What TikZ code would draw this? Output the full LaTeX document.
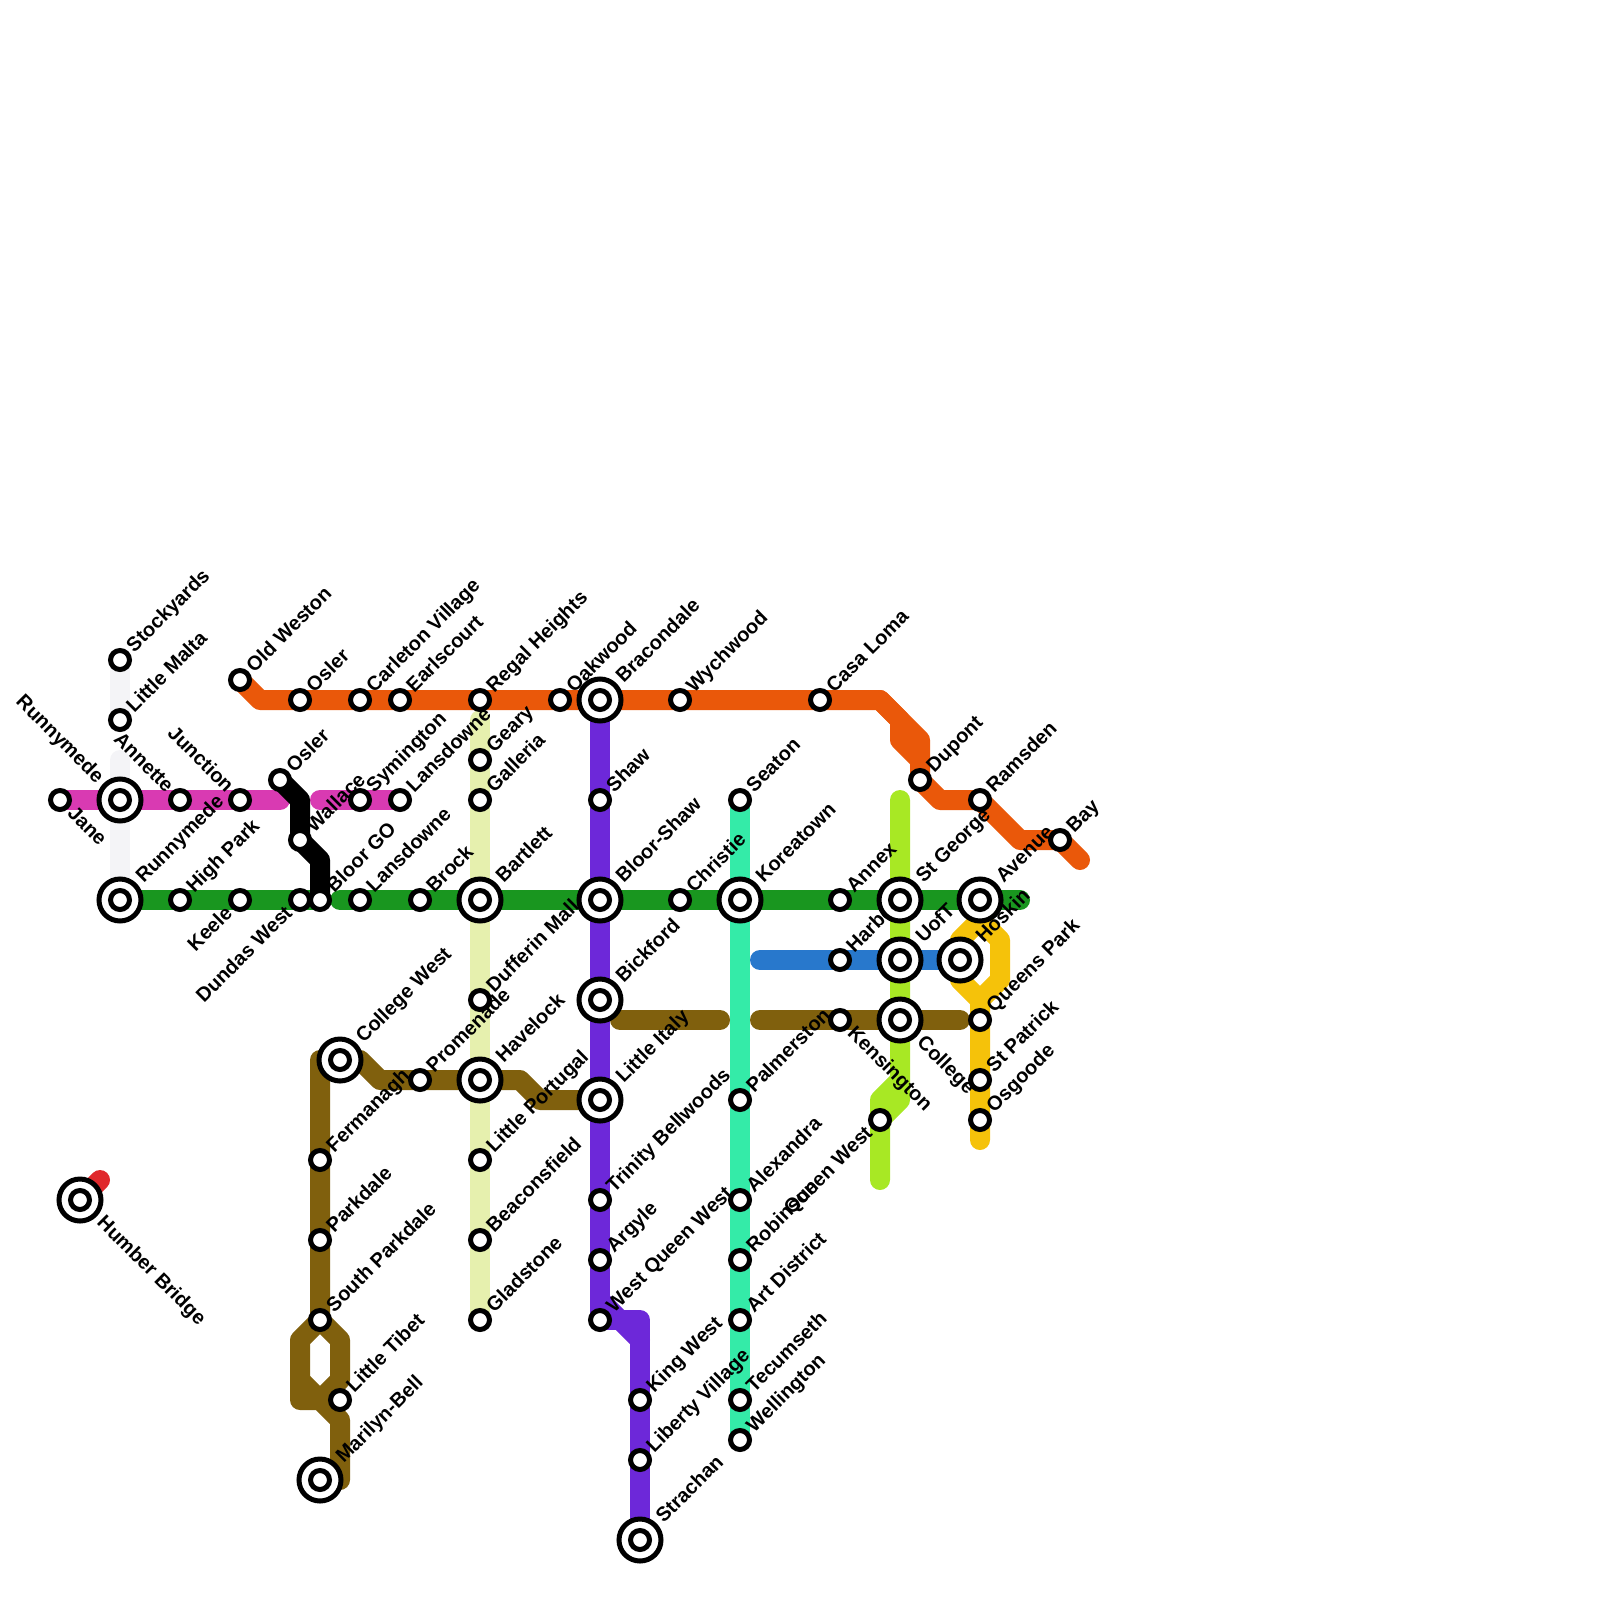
\documentclass[tikz,border=0pt]{standalone}
\usepackage{fontspec}
\setmainfont{Liberation Sans}
\pgfdeclarelayer{bg}
\pgfsetlayers{bg,main}
\definecolor{cOrange}{HTML}{EA580A}
\definecolor{cMagenta}{HTML}{D93AB2}
\definecolor{cGreen}{HTML}{19961F}
\definecolor{cPurple}{HTML}{6D28D9}
\definecolor{cTeal}{HTML}{34EBA8}
\definecolor{cBlue}{HTML}{2878CC}
\definecolor{cBrown}{HTML}{80600D}
\definecolor{cLime}{HTML}{A8E824}
\definecolor{cYellow}{HTML}{F5C20A}
\definecolor{cRed}{HTML}{E0282C}
\definecolor{cGrey}{HTML}{F4F4F7}
\definecolor{cPale}{HTML}{E6F0AE}
\tikzset{
 mline/.style={line width=20pt,line cap=round,line join=round},
 sstn/.style={circle,draw=black,fill=white,line width=5pt,minimum size=19pt,inner sep=0pt,outer sep=0pt},
 bstn/.style={circle,draw=black,fill=white,line width=5pt,minimum size=42pt,inner sep=0pt,outer sep=0pt},
 lab/.style={font=\bfseries\fontsize{20}{24}\selectfont,inner sep=0pt,outer sep=0pt,text height=15pt,text depth=4pt,text=black},
 lab-ur/.style={lab,rotate=45,anchor=west},
 lab-dr/.style={lab,rotate=-45,anchor=west},
 lab-ul/.style={lab,rotate=-45,anchor=east},
 lab-dl/.style={lab,rotate=45,anchor=east},
 wp/.style={coordinate}
}
\def\oxur{1}\def\oyur{-1}\def\oxdr{1}\def\oydr{1}\def\oxul{-1}\def\oyul{-1}\def\oxdl{-1}\def\oydl{1}
\newcommand{\St}[5]{%
 \node[sstn] (#1) at (#2,#3) {};
 \node[lab-#4] (#1-l) at ([shift={({\csname ox#4\endcsname*10.5},{\csname oy#4\endcsname*10.5})}]#1.center) {#5};}
\newcommand{\Bg}[5]{%
 \node[bstn] (#1) at (#2,#3) {};
 \node[sstn] (#1-i) at (#2,#3) {};
 \node[lab-#4] (#1-l) at ([shift={({\csname ox#4\endcsname*20},{\csname oy#4\endcsname*20})}]#1.center) {#5};}
\begin{document}
\begin{tikzpicture}[x=1pt,y=-1pt]
\path[use as bounding box] (0,0) rectangle (1600,1600);
% stations and labels
\St{stockyards}{120}{660}{ur}{Stockyards}
\St{malta}{120}{720}{ur}{Little Malta}
\St{jane}{60}{800}{dr}{Jane}
\Bg{runnyw}{120}{800}{ul}{Runnymede}
\St{annette}{180}{800}{ul}{Annette}
\St{junction}{240}{800}{ul}{Junction}
\St{oslerb}{280}{780}{ur}{Osler}
\St{wallace}{300}{840}{ur}{Wallace}
\St{symington}{360}{800}{ur}{Symington}
\St{lansn}{400}{800}{ur}{Lansdowne}
\Bg{runny}{120}{900}{ur}{Runnymede}
\St{highpark}{180}{900}{ur}{High Park}
\St{keele}{240}{900}{dl}{Keele}
\St{dundas}{300}{900}{dl}{Dundas West}
\St{bloorgo}{320}{900}{ur}{Bloor GO}
\St{lanss}{360}{900}{ur}{Lansdowne}
\St{brock}{420}{900}{ur}{Brock}
\St{oldweston}{240}{680}{ur}{Old Weston}
\St{osler}{300}{700}{ur}{Osler}
\St{carleton}{360}{700}{ur}{Carleton Village}
\St{earls}{400}{700}{ur}{Earlscourt}
\St{regal}{480}{700}{ur}{Regal Heights}
\St{oakwood}{560}{700}{ur}{Oakwood}
\Bg{bracondale}{600}{700}{ur}{Bracondale}
\St{wychwood}{680}{700}{ur}{Wychwood}
\St{casaloma}{820}{700}{ur}{Casa Loma}
\St{geary}{480}{760}{ur}{Geary}
\St{galleria}{480}{800}{ur}{Galleria}
\Bg{bartlett}{480}{900}{ur}{Bartlett}
\St{dufferin}{480}{1000}{ur}{Dufferin Mall}
\St{fermanagh}{320}{1160}{ur}{Fermanagh}
\St{promenade}{420}{1080}{ur}{Promenade}
\Bg{collegew}{340}{1060}{ur}{College West}
\Bg{havelock}{480}{1080}{ur}{Havelock}
\St{lportugal}{480}{1160}{ur}{Little Portugal}
\St{beacons}{480}{1240}{ur}{Beaconsfield}
\St{gladstone}{480}{1320}{ur}{Gladstone}
\St{parkdale}{320}{1240}{ur}{Parkdale}
\St{sparkdale}{320}{1320}{ur}{South Parkdale}
\St{tibet}{340}{1400}{ur}{Little Tibet}
\Bg{marilyn}{320}{1480}{ur}{Marilyn-Bell}
\Bg{humber}{80}{1200}{dr}{Humber Bridge}
\St{shaw}{600}{800}{ur}{Shaw}
\Bg{bloorshaw}{600}{900}{ur}{Bloor-Shaw}
\Bg{bickford}{600}{1000}{ur}{Bickford}
\Bg{litaly}{600}{1100}{ur}{Little Italy}
\St{trinity}{600}{1200}{ur}{Trinity Bellwoods}
\St{argyle}{600}{1260}{ur}{Argyle}
\St{wqw}{600}{1320}{ur}{West Queen West}
\St{kingw}{640}{1400}{ur}{King West}
\St{liberty}{640}{1460}{ur}{Liberty Village}
\Bg{strachan}{640}{1540}{ur}{Strachan}
\St{christie}{680}{900}{ur}{Christie}
\St{seaton}{740}{800}{ur}{Seaton}
\Bg{koreatown}{740}{900}{ur}{Koreatown}
\St{palmerston}{740}{1100}{ur}{Palmerston}
\St{alexandra}{740}{1200}{ur}{Alexandra}
\St{robinson}{740}{1260}{ur}{Robinson}
\St{artd}{740}{1320}{ur}{Art District}
\St{tecumseth}{740}{1400}{ur}{Tecumseth}
\St{wellington}{740}{1440}{ur}{Wellington}
\St{annex}{840}{900}{ur}{Annex}
\St{harbord}{840}{960}{ur}{Harbord}
\St{kensington}{840}{1020}{dr}{Kensington}
\St{queenw}{880}{1120}{dl}{Queen West}
\Bg{stgeorge}{900}{900}{ur}{St George}
\Bg{uoft}{900}{960}{ur}{UofT}
\Bg{college}{900}{1020}{dr}{College}
\St{dupont}{920}{780}{ur}{Dupont}
\Bg{avenue}{980}{900}{ur}{Avenue}
\St{ramsden}{980}{800}{ur}{Ramsden}
\St{bay}{1060}{840}{ur}{Bay}
\Bg{hoskin}{960}{960}{ur}{Hoskin}
\St{queensp}{980}{1020}{ur}{Queens Park}
\St{stpatrick}{980}{1080}{ur}{St Patrick}
\St{osgoode}{980}{1120}{ur}{Osgoode}
% way points
\coordinate (w1) at (260,700);
\coordinate (w2) at (880,700);
\coordinate (w3) at (920,740);
\coordinate (w4) at (900,720);
\coordinate (w5) at (900,740);
\coordinate (w6) at (920,760);
\coordinate (w7) at (940,800);
\coordinate (w8) at (1020,840);
\coordinate (w9) at (1080,860);
\coordinate (magA) at (280,800);
\coordinate (magB) at (320,800);
\coordinate (blk1) at (300,800);
\coordinate (blk2) at (320,860);
\coordinate (grnB) at (340,900);
\coordinate (grnE) at (1020,900);
\coordinate (greyT) at (120,760);
\coordinate (paleT) at (480,720);
\coordinate (pur1) at (640,1320);
\coordinate (pur2) at (600,1300);
\coordinate (pur3) at (640,1340);
\coordinate (bluS) at (760,960);
\coordinate (brA) at (620,1020);
\coordinate (brB) at (720,1020);
\coordinate (brC) at (760,1020);
\coordinate (brD) at (960,1020);
\coordinate (br1) at (320,1060);
\coordinate (br2) at (360,1060);
\coordinate (br3) at (380,1080);
\coordinate (br4) at (520,1080);
\coordinate (br5) at (540,1100);
\coordinate (br6) at (300,1340);
\coordinate (br7) at (300,1400);
\coordinate (br8) at (320,1400);
\coordinate (br9) at (340,1420);
\coordinate (br10) at (340,1480);
\coordinate (br11) at (340,1340);
\coordinate (br12) at (340,1380);
\coordinate (br13) at (300,1380);
\coordinate (li1) at (900,800);
\coordinate (li2) at (900,1080);
\coordinate (li3) at (880,1100);
\coordinate (li4) at (880,1180);
\coordinate (li5) at (900,1100);
\coordinate (ye1) at (980,1140);
\coordinate (ye2) at (980,1000);
\coordinate (ye3) at (960,980);
\coordinate (ye4) at (960,940);
\coordinate (ye5) at (980,920);
\coordinate (ye6) at (1000,940);
\coordinate (ye7) at (1000,980);
\coordinate (rd1) at (100,1180);
\begin{pgfonlayer}{bg}
\draw[mline,cGrey] (stockyards.center) -- (malta.center);
\draw[mline,cGrey] (greyT) -- (runny.center);
\draw[mline,cRed] (humber.center) -- (rd1);
\draw[mline,cPale] (paleT) -- (gladstone.center);
\draw[mline,cYellow] (ye1) -- (ye2) -- (ye3) -- (ye4) -- (ye5) -- (ye6) -- (ye7) -- (ye2);
\draw[mline,cLime] (li1) -- (li2) -- (li3) -- (li4);
\draw[mline,cLime] (li2) -- (li5) -- (queenw.center);
\draw[mline,cMagenta] (jane.center) -- (magA);
\draw[mline,cMagenta] (magB) -- (lansn.center);
\draw[mline,cGreen] (runny.center) -- (bloorgo.center);
\draw[mline,cGreen] (grnB) -- (grnE);
\draw[mline,black] (oslerb.center) -- (blk1) -- (wallace.center) -- (blk2) -- (bloorgo.center);
\draw[mline,cOrange] (oldweston.center) -- (w1) -- (w2) -- (w3) -- (w6) -- (dupont.center) -- (w7) -- (ramsden.center) -- (w8) -- (bay.center) -- (w9);
\draw[mline,cOrange] (w2) -- (w4) -- (w5) -- (w6);
\draw[mline,cPurple] (bracondale.center) -- (wqw.center) -- (pur1) -- (strachan.center);
\draw[mline,cPurple] (pur2) -- (pur3);
\draw[mline,cTeal] (seaton.center) -- (wellington.center);
\draw[mline,cBlue] (bluS) -- (hoskin.center);
\draw[mline,cBrown] (brA) -- (brB);
\draw[mline,cBrown] (brC) -- (brD);
\draw[mline,cBrown] (collegew.center) -- (br1) -- (sparkdale.center) -- (br6) -- (br7) -- (br8) -- (br9) -- (br10) -- (marilyn.center);
\draw[mline,cBrown] (sparkdale.center) -- (br11) -- (br12) -- (br8) -- (br13);
\draw[mline,cBrown] (collegew.center) -- (br2) -- (br3) -- (br4) -- (br5) -- (litaly.center);
\end{pgfonlayer}
\end{tikzpicture}
\end{document}
